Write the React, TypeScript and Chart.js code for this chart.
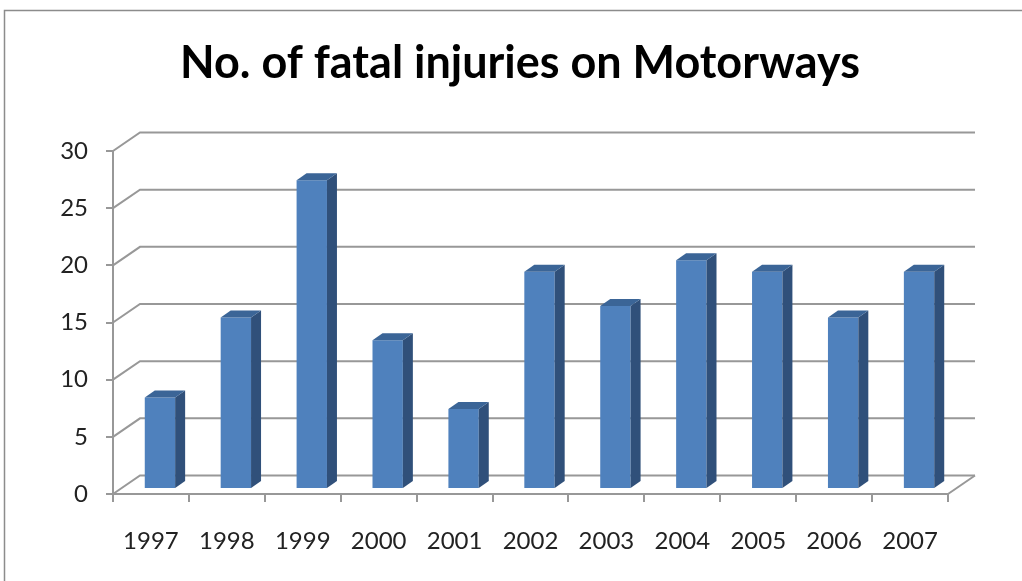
import { useEffect, useRef } from 'react';
import { Chart, registerables } from 'chart.js';

Chart.register(...registerables);

const categories = ['1997', '1998', '1999', '2000', '2001', '2002', '2003', '2004', '2005', '2006', '2007'];
const fatalInjuries = [8, 15, 27, 13, 7, 19, 16, 20, 19, 15, 19];
const yTickValues = [0, 5, 10, 15, 20, 25, 30];
const chartTitle = 'No. of fatal injuries on Motorways';

const BACK = { dx: 27, dy: -18.5 };
const BAR_SHIFT = { dx: 9, dy: -5 };
const BAR_DEPTH = { dx: 10, dy: -7 };
const GRID = '#989898';
const FONT = 'Lato, "Open Sans", sans-serif';

const threeDPlugin = {
  id: 'threeD',
  beforeDraw(chart: any) {
    const { ctx, width, height } = chart;
    ctx.save();
    ctx.fillStyle = '#ffffff';
    ctx.fillRect(0, 0, width, height);
    ctx.strokeStyle = '#8c8c8c';
    ctx.lineWidth = 1.5;
    ctx.strokeRect(4.5, 10.5, width + 50, height + 50);
    // title
    let size = 44;
    ctx.font = `bold ${size}px ${FONT}`;
    const w = ctx.measureText(chartTitle).width;
    size = size * 680 / w;
    ctx.font = `bold ${size}px ${FONT}`;
    ctx.fillStyle = '#000000';
    ctx.textAlign = 'center';
    ctx.textBaseline = 'alphabetic';
    ctx.fillText(chartTitle, 520, 78);
    ctx.restore();
  },
  beforeDatasetsDraw(chart: any) {
    const { ctx, chartArea, scales } = chart;
    const y = scales.y;
    const { left, right, bottom } = chartArea;
    ctx.save();
    ctx.strokeStyle = GRID;
    ctx.lineWidth = 2;
    ctx.lineCap = 'butt';
    for (const v of yTickValues) {
      const py = y.getPixelForValue(v);
      ctx.beginPath();
      ctx.moveTo(left, py);
      ctx.lineTo(left + BACK.dx, py + BACK.dy);
      ctx.lineTo(right + BACK.dx, py + BACK.dy);
      ctx.stroke();
    }
    // floor right edge
    ctx.beginPath();
    ctx.moveTo(right, bottom);
    ctx.lineTo(right + BACK.dx, bottom + BACK.dy);
    ctx.stroke();
    ctx.restore();
    ctx.save();
    ctx.translate(BAR_SHIFT.dx, BAR_SHIFT.dy);
  },
  afterDatasetsDraw(chart: any) {
    const { ctx } = chart;
    const meta = chart.getDatasetMeta(0);
    meta.data.forEach((el: any) => {
      const { x, y, base, width } = el.getProps(['x', 'y', 'base', 'width'], true);
      const l = x - width / 2;
      const r = x + width / 2;
      // side
      ctx.fillStyle = '#30507a';
      ctx.beginPath();
      ctx.moveTo(r, y);
      ctx.lineTo(r + BAR_DEPTH.dx, y + BAR_DEPTH.dy);
      ctx.lineTo(r + BAR_DEPTH.dx, base + BAR_DEPTH.dy);
      ctx.lineTo(r, base);
      ctx.closePath();
      ctx.fill();
      // top
      ctx.fillStyle = '#3b6597';
      ctx.beginPath();
      ctx.moveTo(l, y);
      ctx.lineTo(l + BAR_DEPTH.dx, y + BAR_DEPTH.dy);
      ctx.lineTo(r + BAR_DEPTH.dx, y + BAR_DEPTH.dy);
      ctx.lineTo(r, y);
      ctx.closePath();
      ctx.fill();
    });
    ctx.restore();
  },
};

export default function App() {
  const ref = useRef<HTMLCanvasElement | null>(null);
  useEffect(() => {
    if (!ref.current) return;
    const chart = new Chart(ref.current, {
      type: 'bar',
      data: {
        labels: categories,
        datasets: [
          {
            label: 'Fatal injuries',
            data: fatalInjuries,
            backgroundColor: '#4f81bd',
            borderWidth: 0,
            categoryPercentage: 1,
            barPercentage: 0.4,
            clip: false as any,
          },
        ],
      },
      options: {
        animation: false,
        responsive: false,
        maintainAspectRatio: false,
        layout: { padding: { top: 151, right: 74, bottom: 0, left: 0 } },
        plugins: {
          legend: { display: false },
          tooltip: { enabled: false },
          title: { display: false },
        },
        scales: {
          x: {
            offset: true,
            grid: {
              display: true,
              offset: true,
              drawOnChartArea: false,
              drawTicks: true,
              tickLength: 8,
              color: GRID,
              lineWidth: 2,
            },
            border: { display: true, color: GRID, width: 2 },
            ticks: {
              color: '#222222',
              font: { family: FONT, size: 24 },
              padding: 25,
              maxRotation: 0,
            },
            afterFit(scale: any) {
              scale.height = 87;
            },
          },
          y: {
            min: 0,
            max: 30,
            ticks: {
              stepSize: 5,
              color: '#222222',
              font: { family: FONT, size: 24 },
              padding: 18,
            },
            grid: {
              display: true,
              drawOnChartArea: false,
              drawTicks: true,
              tickLength: 7,
              color: GRID,
              lineWidth: 2,
            },
            border: { display: true, color: GRID, width: 2 },
            afterFit(scale: any) {
              scale.width = 113;
            },
          },
        },
      },
      plugins: [threeDPlugin],
    });
    return () => chart.destroy();
  }, []);
  return (
    <div style={{ position: 'fixed', left: 0, top: 0, width: 1022, height: 581 }}>
      <canvas ref={ref} width={1022} height={581} style={{ display: 'block' }} />
    </div>
  );
}
